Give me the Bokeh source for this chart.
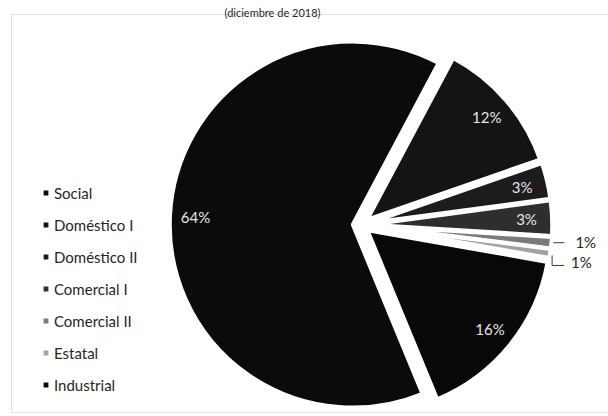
import math
from bokeh.plotting import figure
from bokeh.models import ColumnDataSource, Range1d, Label, BoxAnnotation
from bokeh.core.properties import value
from bokeh.embed import file_html
from bokeh.resources import INLINE

# ---- data -------------------------------------------------------------
categories = ["Social", "Doméstico I", "Doméstico II", "Comercial I",
              "Comercial II", "Estatal", "Industrial"]
shares = [64.0, 11.9, 3.2, 3.1, 1.0, 0.8, 16.0]
colors = ["#0b0b0b", "#141414", "#1c1c1c", "#2e2e2e",
          "#7a7a7a", "#a3a3a3", "#080808"]
outside = [False, False, False, False, True, True, False]
title_text = "(diciembre de 2018)"

# ---- layout constants (canvas pixels) ----------------------------------
W, H = 608, 416
R = 183.0                 # pie radius in px
CX, CY = 360.5, 224.5     # pie centre
START = -202.4            # first slice start, degrees clockwise from 12 o'clock
EXPLODE = 0.045
LABEL_R = 0.86
FONT = "Lato"


def xd(px):
    return (px - CX) / R


def yd(py):
    return (CY - py) / R


p = figure(width=W, height=H,
           x_range=Range1d(xd(0), xd(W)), y_range=Range1d(yd(H), yd(0)),
           toolbar_location=None, output_backend="svg",
           x_axis_location=None, y_axis_location=None,
           min_border=0)
p.grid.visible = False
p.outline_line_color = None
p.background_fill_color = "white"
p.border_fill_color = "white"

p.add_layout(BoxAnnotation(left=xd(11), right=xd(W + 20), top=yd(14),
                           bottom=yd(412), fill_alpha=0,
                           line_color="#9a9a9a", line_width=1))

total = sum(shares)
cum = START
wx, wy, sa, ea, mids = [], [], [], [], []
for v in shares:
    span = v / total * 360.0
    t0, t1 = cum, cum + span
    mid = (t0 + t1) / 2
    cum = t1
    wx.append(EXPLODE * math.sin(math.radians(mid)))
    wy.append(EXPLODE * math.cos(math.radians(mid)))
    sa.append(math.radians(90 - t1))
    ea.append(math.radians(90 - t0))
    mids.append(mid)

src = ColumnDataSource(dict(x=wx, y=wy, start=sa, end=ea, color=colors,
                            cat=categories))
p.wedge(x="x", y="y", radius=1.0, start_angle="start", end_angle="end",
        direction="anticlock", fill_color="color", line_color="white",
        line_width=4, source=src, legend_field="cat")

ix, iy, it = [], [], []
ox, oy, ot = [], [], []
lead_x, lead_y = [], []
px1 = 1.0 / R
for i, v in enumerate(shares):
    m = math.radians(mids[i])
    txt = f"{round(v)}%"
    if not outside[i]:
        ix.append(wx[i] + LABEL_R * math.sin(m))
        iy.append(wy[i] + LABEL_R * math.cos(m))
        it.append(txt)
    else:
        qx = wx[i] + math.sin(m)
        qy = wy[i] + math.cos(m)
        if i == 4:
            lead_x.append([qx + 2 * px1, qx + 13 * px1])
            lead_y.append([qy, qy])
            ox.append(qx + 24 * px1)
            oy.append(qy + 1 * px1)
        else:
            lead_x.append([qx + 2 * px1, qx + 2 * px1, qx + 14 * px1])
            lead_y.append([qy - 2 * px1, qy - 12 * px1, qy - 12 * px1])
            ox.append(qx + 21 * px1)
            oy.append(qy - 9 * px1)
        ot.append(txt)

p.text(x=ix, y=iy, text=it, text_align="center", text_baseline="middle",
       text_font=value(FONT), text_font_size="15px", text_color="#e6e6e6")
p.multi_line(xs=lead_x, ys=lead_y, line_color="#3a3a3a", line_width=1)
p.text(x=ox, y=oy, text=ot, text_align="left", text_baseline="middle",
       text_font=value(FONT), text_font_size="15px", text_color="#1e1e1e")

p.add_layout(Label(x=xd(272), y=yd(11.5), text=title_text, text_align="center",
                   text_baseline="alphabetic", text_font=FONT,
                   text_font_size="11px", text_color="#262626"))

lg = p.legend[0]
lg.location = (40, 22.5)
lg.padding = 0
lg.margin = 0
lg.spacing = 14
lg.glyph_width = 11
lg.glyph_height = 11
lg.label_height = 18
lg.label_standoff = 3
lg.label_text_font = FONT
lg.label_text_font_size = "15px"
lg.label_text_color = "#262626"
lg.border_line_color = None
lg.background_fill_alpha = 0

open("out.html", "w").write(file_html(p, INLINE))
